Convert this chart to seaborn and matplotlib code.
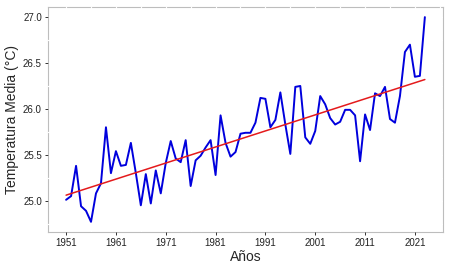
import numpy as np
import pandas as pd
import matplotlib
matplotlib.use("Agg")
import matplotlib.pyplot as plt
from matplotlib.ticker import AutoMinorLocator
import seaborn as sns

# annual mean temperature, 1951-2023
years = list(range(1951, 2024))
temps = [25.01, 25.05, 25.38, 24.94, 24.89, 24.77, 25.08, 25.19, 25.80, 25.30,
         25.54, 25.38, 25.39, 25.63, 25.30, 24.95, 25.29, 24.97, 25.33, 25.08,
         25.41, 25.65, 25.46, 25.42, 25.66, 25.16, 25.44, 25.49, 25.58, 25.66,
         25.28, 25.93, 25.63, 25.48, 25.53, 25.73, 25.74, 25.74, 25.85, 26.12,
         26.11, 25.80, 25.88, 26.18, 25.83, 25.51, 26.24, 26.25, 25.69, 25.62,
         25.76, 26.14, 26.05, 25.90, 25.83, 25.86, 25.99, 25.99, 25.93, 25.43,
         25.94, 25.77, 26.17, 26.14, 26.24, 25.89, 25.85, 26.14, 26.62, 26.70,
         26.35, 26.36, 27.00]
tick_years = [1951, 1961, 1971, 1981, 1991, 2001, 2011, 2021]
tick_temps = [25.0, 25.5, 26.0, 26.5, 27.0]

df = pd.DataFrame({"Año": years, "Temp": temps})

sns.set_theme(style="white")
plt.rcParams['font.family'] = ['Liberation Sans', 'DejaVu Sans']

fig, ax = plt.subplots(figsize=(4.5, 2.7), dpi=100)
fig.subplots_adjust(left=0.107, right=0.984, top=0.974, bottom=0.141)

sns.lineplot(x="Año", y="Temp", data=df, color="#0000dd", linewidth=1.4, ax=ax)
sns.regplot(x="Año", y="Temp", data=df, scatter=False, ci=None,
            line_kws={"color": "#e41a1c", "linewidth": 1.1}, ax=ax)

ax.set_xlim(1947.4, 2026.6)
ax.set_ylim(24.66, 27.11)
ax.set_xticks(tick_years)
ax.set_xticklabels([str(y) for y in tick_years])
ax.set_yticks(tick_temps)
ax.set_yticklabels([f"{t:.1f}" for t in tick_temps])
ax.xaxis.set_minor_locator(AutoMinorLocator(2))
ax.yaxis.set_minor_locator(AutoMinorLocator(2))
ax.tick_params(axis="both", which="major", labelsize=7, length=2.5, width=0.7,
               color="#333333", labelcolor="#222222", direction="out", pad=2,
               left=True, bottom=True)
ax.tick_params(axis="both", which="minor", length=0)

# grey border, white grid painted over it (ggplot style)
for s in ax.spines.values():
    s.set_color("#bdbdbd")
    s.set_linewidth(0.8)
    s.set_zorder(0.3)
ax.set_axisbelow(True)
ax.grid(True, which="both", color="white", linewidth=0.9)

ax.set_xlabel("Años", fontsize=10, labelpad=1)
ax.set_ylabel("Temperatura Media (°C)", fontsize=10, labelpad=3)

plt.savefig("out.png", dpi=100)
